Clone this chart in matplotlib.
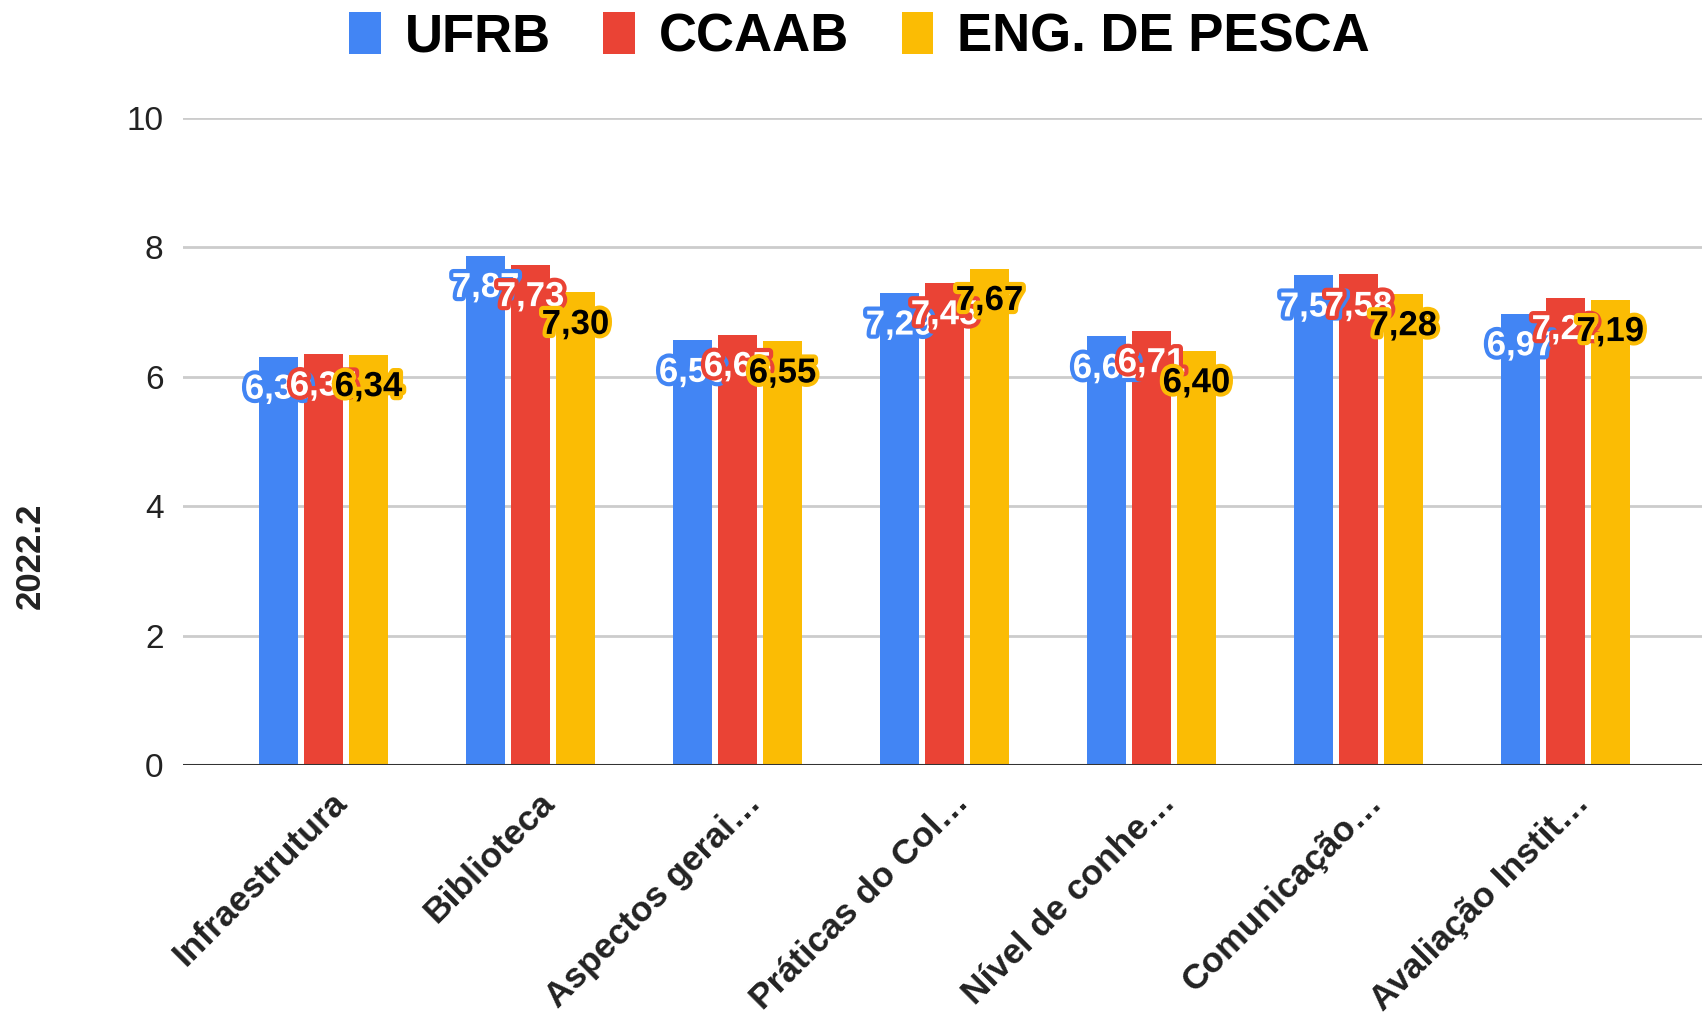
import matplotlib
matplotlib.use("Agg")
import matplotlib.pyplot as plt
import matplotlib.patheffects as pe
import matplotlib.transforms as mtransforms
from matplotlib.patches import Patch
import numpy as np

categories = ["Infraestrutura", "Biblioteca", "Aspectos gerai…", "Práticas do Col…",
              "Nível de conhe…", "Comunicação…", "Avaliação Instit…"]
series_names = ["UFRB", "CCAAB", "ENG. DE PESCA"]
ufrb = [6.30, 7.87, 6.56, 7.29, 6.62, 7.57, 6.97]
ccaab = [6.35, 7.73, 6.65, 7.45, 6.71, 7.58, 7.22]
eng = [6.34, 7.30, 6.55, 7.67, 6.40, 7.28, 7.19]
y_ticks = [0, 2, 4, 6, 8, 10]
y_title = "2022.2"

colors = ["#4285F4", "#EA4335", "#FBBC04"]
text_colors = ["white", "white", "black"]

plt.rcParams['font.family'] = ['Liberation Sans', 'DejaVu Sans']

W, H = 1702, 1017
fig = plt.figure(figsize=(W / 100, H / 100), dpi=100)
ax_left = 183 / W
ax_bottom = 1 - 765 / H
ax_top = 1 - 117.7 / H
ax = fig.add_axes([ax_left, ax_bottom, 1 - ax_left, ax_top - ax_bottom])

x = np.arange(len(categories))
bw = 0.188
step = 0.217
all_series = [ufrb, ccaab, eng]
for k, vals in enumerate(all_series):
    ax.bar(x + (k - 1) * step, vals, width=bw, color=colors[k], zorder=3)

for k, vals in enumerate(all_series):
    for i, v in enumerate(vals):
        ax.annotate(f"{v:.2f}".replace(".", ","), xy=(x[i] + (k - 1) * step, v),
                    xytext=(0, -23), textcoords="offset points",
                    ha="center", va="center", fontsize=25, fontweight="bold",
                    color=text_colors[k], zorder=5,
                    path_effects=[pe.withStroke(linewidth=6, foreground=colors[k])])

ax.set_ylim(0, 10)
ax.set_xlim(-0.679, 6.66)
ax.set_yticks(y_ticks)
ax.set_yticklabels([str(t) for t in y_ticks], fontsize=24, color="#222222")
ax.tick_params(axis="y", length=0, pad=14)
ax.set_xticks([])
ax.grid(axis="y", color="#cccccc", linewidth=2, zorder=0)
ax.axhline(0, color="#333333", linewidth=2.2, zorder=4)
for s in ax.spines.values():
    s.set_visible(False)

trans = mtransforms.blended_transform_factory(ax.transData, ax.transAxes)
for i, c in enumerate(categories):
    ax.text(x[i] + 0.09, -0.05, c, transform=trans, rotation=45, ha="right", va="center",
            rotation_mode="anchor", fontsize=25.5, fontweight="bold", color="#222222")

fig.text(30 / W, 1 - 556 / H, y_title, rotation=90, ha="center", va="center",
         fontsize=25, fontweight="bold", color="#222222")

handles = [Patch(facecolor=colors[k], edgecolor="none") for k in range(3)]
fig.legend(handles, series_names, loc="center", bbox_to_anchor=(0.505, 1 - 37 / H),
           ncol=3, frameon=False, prop={"size": 38, "weight": "bold"},
           handlelength=0.6, handleheight=0.85, handletextpad=0.45, columnspacing=1.0)

fig.savefig("out.png", dpi=100)
